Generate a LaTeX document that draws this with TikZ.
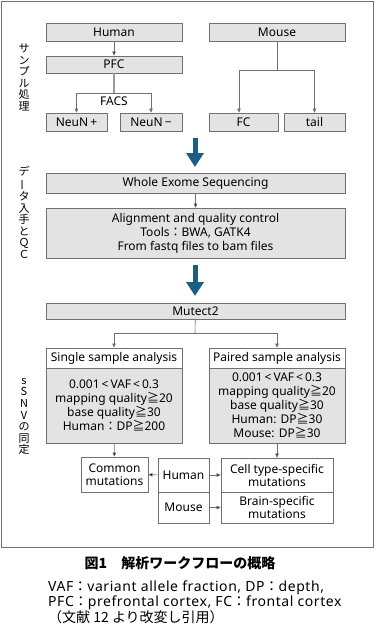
\documentclass[tikz,border=0pt]{standalone}
\usepackage{fontspec}
\setmainfont{Noto Sans}
\newfontfamily\jp{Noto Sans CJK JP}
\newfontfamily\notefont[LetterSpace=4]{Noto Sans}
\newcommand{\jc}[1]{{\jp #1}}
\usetikzlibrary{arrows.meta}
\definecolor{boxgray}{HTML}{E3E3E3}
\definecolor{linegray}{HTML}{707070}
\definecolor{flowblue}{HTML}{1D5E86}
\begin{document}
\begin{tikzpicture}[x=1pt, y=-1pt,
    gbox/.style={draw=linegray, fill=boxgray, line width=0.7pt, inner sep=0pt, font=\fontsize{12}{13}\selectfont},
    wbox/.style={gbox, fill=white},
    arr/.style={-{Triangle[length=4pt, width=3.5pt]}, draw=linegray, line width=0.6pt},
    bigarr/.style={-{Triangle[length=14pt, width=17pt]}, draw=flowblue, line width=5pt},
    vlabel/.style={align=center, font=\jp\fontsize{11}{11.6}\selectfont}]

    \useasboundingbox (0, 0) rectangle (375, 627);
    \draw[linegray, line width=0.8pt] (1, 1) rectangle (373.5, 547);

    % sample preparation
    \node (human) [gbox, minimum width=136, minimum height=18] at (114, 32) {Human};
    \node (mouse) [gbox, minimum width=136, minimum height=18] at (277, 32) {Mouse};
    \node (pfc) [gbox, minimum width=136, minimum height=17] at (114, 64.5) {PFC};
    \node (neup) [gbox, minimum width=61, minimum height=18] at (76.5, 122) {NeuN\,+};
    \node (neum) [gbox, minimum width=62, minimum height=18] at (151, 122) {NeuN\,−};
    \node (fc) [gbox, minimum width=69, minimum height=18] at (243.5, 122) {FC};
    \node (tail) [gbox, minimum width=61, minimum height=18] at (314.5, 122) {tail};
    \coordinate (facs) at (114, 93);
    \coordinate (msplit) at (277, 70);
    \node (facstext) [font=\fontsize{12}{13}\selectfont] at (114, 101) {FACS};

    \path[arr] (human) edge (pfc);
    \draw[linegray!70, line width=1.2pt] (pfc) -- (facs);
    \draw[arr] (facs) -| (neup.north);
    \draw[arr] (facs) -| (neum.north);
    \draw[linegray, line width=0.6pt] (mouse) -- (msplit);
    \draw[arr] (msplit) -| ([xshift=-4.5pt]fc.north);
    \draw[arr] (msplit) -| (tail.north);

    % data and QC
    \coordinate (a1s) at (195, 138);
    \coordinate (a1e) at (195, 167);
    \node (wes) [gbox, minimum width=299, minimum height=20] at (195.5, 183) {Whole Exome Sequencing};
    \node (align) [gbox, minimum width=299, minimum height=50, align=center,
        font=\fontsize{12}{14}\selectfont] at (195.5, 233)
        {Alignment and quality control\\Tools\jc{：}BWA, GATK4\\From fastq files to bam files};
    \coordinate (a2s) at (195, 265);
    \coordinate (a2e) at (195, 296);
    \draw[bigarr] (a1s) -- (a1e);
    \draw[bigarr] (a2s) -- (a2e);
    \path[arr] (wes) edge (align);

    % sSNV calling
    \node (mutect) [gbox, minimum width=299, minimum height=16] at (195.5, 311) {Mutect2};
    \node (shead) [wbox, minimum width=136, minimum height=20] at (114, 358) {Single sample analysis};
    \node (sbody) [gbox, minimum width=136, minimum height=75, align=center,
        font=\fontsize{12}{13.8}\selectfont] at (114, 405.5)
        {0.001\,<\,VAF\,<\,0.3\\mapping quality\jc{≧}20\\base quality\jc{≧}30\\Human\jc{：}DP\jc{≧}200};
    \node (phead) [wbox, minimum width=136, minimum height=20] at (277, 358) {Paired sample analysis};
    \node (pbody) [gbox, minimum width=136, minimum height=75, align=center,
        font=\fontsize{12}{13.8}\selectfont] at (277, 405.5)
        {0.001\,<\,VAF\,<\,0.3\\mapping quality\jc{≧}20\\base quality\jc{≧}30\\Human: DP\jc{≧}30\\Mouse: DP\jc{≧}30};
    \coordinate (msplit2) at (195, 333);
    \draw[linegray, line width=0.6pt] (mutect) -- (msplit2);
    \draw[arr] (msplit2) -| (shead.north);
    \draw[arr] (msplit2) -| (phead.north);

    \node (common) [wbox, minimum width=67, minimum height=35, align=center,
        font=\fontsize{12}{13}\selectfont] at (114.5, 474.5) {Common\\mutations};
    \node (hum2) [wbox, minimum width=51, minimum height=34] at (183.5, 475) {Human};
    \node (mou2) [wbox, minimum width=51, minimum height=31] at (183.5, 507.5) {Mouse};
    \node (cell) [wbox, minimum width=112, minimum height=34, align=center,
        font=\fontsize{12}{13}\selectfont] at (277, 475) {Cell type-specific\\mutations};
    \node (brain) [wbox, minimum width=112, minimum height=31, align=center,
        font=\fontsize{12}{13}\selectfont] at (277, 507.5) {Brain-specific\\mutations};

    \path[arr]
    (sbody) edge (common)
    (pbody) edge (cell)
    (hum2) edge (common)
    (hum2) edge (cell)
    (mou2) edge (brain);

    % side labels
    \node (lab1) [vlabel] at (24, 77.5) {サ\\ン\\プ\\ル\\処\\理};
    \node (lab2) [vlabel] at (24, 212.5) {デ\\\rotatebox[origin=c]{90}{ー}\\タ\\入\\手\\と\\Ｑ\\Ｃ};
    \node (lab3) [vlabel] at (24, 416.5) {s\\S\\N\\V\\の\\同\\定};

    % caption
    \node (cap) [font=\jp\fontsize{14}{16}\selectfont\bfseries] at (180, 563) {図1　解析ワークフローの概略};
    \node (note) [anchor=north west, align=left, inner sep=0pt,
        font=\notefont\fontsize{14}{14}\selectfont] at (48, 580.5)
        {VAF\jc{：}variant allele fraction, DP\jc{：}depth,\\PFC\jc{：}prefrontal cortex, FC\jc{：}frontal cortex\\\jc{（文献 12 より改変し引用）}};

\end{tikzpicture}
\end{document}
